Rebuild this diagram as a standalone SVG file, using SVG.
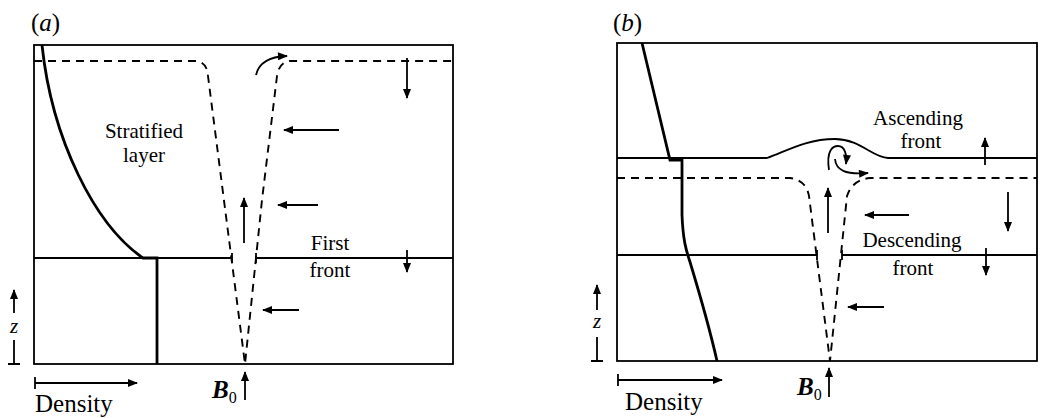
<svg xmlns="http://www.w3.org/2000/svg" width="1040" height="418" viewBox="0 0 1040 418">
<defs>
<marker id="ah" viewBox="0 0 10 8" refX="9" refY="4" markerWidth="11" markerHeight="8" markerUnits="userSpaceOnUse" orient="auto">
<path d="M0,0 L10,4 L0,8 z" fill="#000"/>
</marker>
</defs>
<style>
.ln{fill:none;stroke:#000;stroke-width:1.8}
.th{fill:none;stroke:#000;stroke-width:2.8}
.ds{fill:none;stroke:#000;stroke-width:1.9;stroke-dasharray:8 6}
.ar{fill:none;stroke:#000;stroke-width:1.8;marker-end:url(#ah)}
.t{font-family:"Liberation Serif",serif;font-size:21px;fill:#000}
.lbl{font-family:"Liberation Serif",serif;font-size:25px;fill:#000}
.it{font-style:italic}
</style>
<rect width="1040" height="418" fill="#fff"/>

<g id="panel-a">
<text class="lbl" x="31" y="31">(<tspan class="it">a</tspan>)</text>
<rect class="ln" x="34" y="45" width="419" height="319"/>
<path class="th" d="M42,45 C52,140 95,225 143,258 L157,258 L157,364"/>
<path class="ln" d="M34,258 L232,258 M232,253 L232,263 M256,253 L256,263 M256,258 L453,258"/>
<path class="ds" d="M34,61 L196,61 Q207,62 208,76 L245,364 L262,200 L277,76 Q279,62 290,61 L453,61"/>
<path class="ar" d="M256,75 Q260,57 287,56"/>
<path class="ar" d="M407,58 L407,98"/>
<path class="ar" d="M339,130 L284,130"/>
<path class="ar" d="M318,205 L278,205"/>
<path class="ar" d="M299,310 L263,310"/>
<path class="ar" d="M244,243 L244,198"/>
<path class="ar" d="M407,250 L407,272"/>
<text class="t" x="144" y="138" text-anchor="middle">Stratified</text>
<text class="t" x="144" y="162" text-anchor="middle">layer</text>
<text class="t" x="330" y="250" text-anchor="middle">First</text>
<text class="t" x="330" y="277" text-anchor="middle">front</text>
<path class="ar" d="M14,313 L14,290"/>
<text class="t it" x="14" y="333" text-anchor="middle" font-size="23">z</text>
<path class="ln" d="M14,340 L14,364 M8,364 L20,364"/>
<path class="ar" d="M35,383 L137,383"/>
<path class="ln" d="M35,377 L35,389"/>
<text class="lbl" x="35" y="412" font-size="26">Density</text>
<text class="lbl it" x="212" y="398" font-weight="bold">B<tspan font-size="16" font-style="normal" font-weight="normal" dy="5">0</tspan></text>
<path class="ar" d="M245,400 L245,372"/>
</g>

<g id="panel-b">
<text class="lbl" x="613" y="31">(<tspan class="it">b</tspan>)</text>
<rect class="ln" x="617" y="43" width="420" height="318"/>
<path class="th" d="M642,43 L670,160 L682,160 L682,215 C683,240 686,250 690,262 C700,295 710,330 717,361"/>
<path class="ln" d="M617,158 L767,158 C785,152 805,139 835,139 C860,139 873,158 888,158 L1037,158"/>
<path class="ln" d="M617,255 L817,255 M817,250 L817,260 M842,250 L842,260 M842,255 L1037,255"/>
<path class="ds" d="M617,178 L790,178 Q806,180 809,196 L830,361 L847,196 Q852,180 870,178 L1037,178"/>
<path class="ar" d="M829,170 C826,150 833,146 838,146 C845,146 847,155 846,164"/>
<path class="ar" d="M835,159 C836,170 845,175 868,173"/>
<path class="ar" d="M985,165 L985,138"/>
<path class="ar" d="M1008,192 L1008,231"/>
<path class="ar" d="M986,248 L986,275"/>
<path class="ar" d="M909,215 L865,215"/>
<path class="ar" d="M884,307 L848,307"/>
<path class="ar" d="M828,233 L828,188"/>
<text class="t" x="918" y="125" text-anchor="middle">Ascending</text>
<text class="t" x="921" y="148" text-anchor="middle">front</text>
<text class="t" x="912" y="247" text-anchor="middle">Descending</text>
<text class="t" x="913" y="275" text-anchor="middle">front</text>
<path class="ar" d="M597,310 L597,285"/>
<text class="t it" x="597" y="328" text-anchor="middle" font-size="23">z</text>
<path class="ln" d="M597,337 L597,361 M591,361 L603,361"/>
<path class="ar" d="M618,380 L722,380"/>
<path class="ln" d="M618,374 L618,386"/>
<text class="lbl" x="625" y="410" font-size="26">Density</text>
<text class="lbl it" x="797" y="395" font-weight="bold">B<tspan font-size="16" font-style="normal" font-weight="normal" dy="5">0</tspan></text>
<path class="ar" d="M829,397 L829,368"/>
</g>
</svg>
